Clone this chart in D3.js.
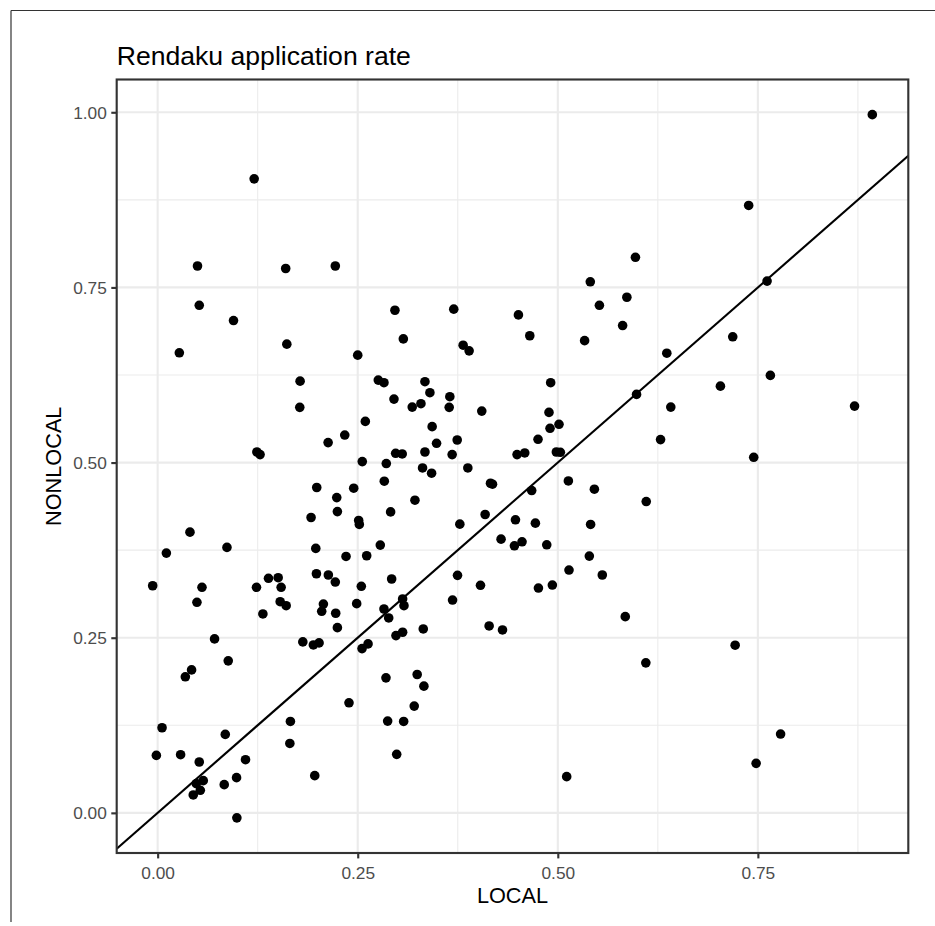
<!DOCTYPE html>
<html>
<head>
<meta charset="utf-8">
<script src="https://cdn.jsdelivr.net/npm/d3@7/dist/d3.min.js"></script>
<style>
  html, body { margin: 0; padding: 0; background: #ffffff; }
  svg { display: block; }
  text { font-family: "Liberation Sans", Arial, Helvetica, sans-serif; }
</style>
</head>
<body>
<svg id="chart" width="935" height="926"></svg>
<script>
// ---- data ----
const titleText = "Rendaku application rate";
const xLabel = "LOCAL";
const yLabel = "NONLOCAL";

const localRate = [
  0.1206, 0.0498, 0.052, 0.0948, 0.160, 0.222, 0.2965, 0.370, 0.307, 0.4508,
  0.465, 0.5406, 0.597, 0.552, 0.5863, 0.581, 0.5335, 0.893, 0.7385, 0.7615,
  0.7186, 0.0271, 0.1614, 0.25, 0.178, 0.1776, 0.2595, 0.2338, 0.213, 0.124,
  0.128, 0.2557, 0.1988, 0.245, 0.2238, 0.2246, 0.1917, 0.2512, 0.252, 0.0404,
  0.0109, 0.0866, 0.1976, 0.2354, 0.2612, 0.1984, 0.2133, 0.222, 0.1385, 0.1506,
  -0.0062, 0.0554, 0.1235, 0.1543, 0.2545, 0.0491, 0.1531, 0.1606, 0.1315, 0.205,
  0.2071, 0.2487, 0.2225, 0.2246, 0.0711, 0.1814, 0.1946, 0.2017, 0.2554, 0.2629,
  0.0424, 0.0346, 0.0882, 0.2391, 0.0055, 0.1659, 0.1652, 0.0845, -0.0016, 0.0287,
  0.052, 0.1098, 0.1963, 0.0986, 0.057, 0.0483, 0.0832, 0.0533, 0.0445, 0.099,
  0.3817, 0.3892, 0.2757, 0.2828, 0.334, 0.3402, 0.2953, 0.3181, 0.329, 0.3651,
  0.3643, 0.405, 0.4911, 0.489, 0.4903, 0.5015, 0.4753, 0.343, 0.3485, 0.3743,
  0.2974, 0.3056, 0.334, 0.368, 0.4491, 0.4587, 0.4982, 0.5032, 0.2857, 0.331,
  0.3423, 0.3876, 0.2832, 0.4159, 0.4184, 0.5132, 0.5457, 0.4674, 0.3215, 0.2911,
  0.3776, 0.4092, 0.4471, 0.472, 0.541, 0.2782, 0.4291, 0.4458, 0.4553, 0.4862,
  0.5394, 0.2924, 0.3747, 0.514, 0.5556, 0.4034, 0.4758, 0.4932, 0.3061, 0.3078,
  0.2828, 0.2887, 0.2978, 0.3061, 0.3319, 0.3685, 0.4142, 0.4309, 0.5843, 0.2853,
  0.3243, 0.3327, 0.3206, 0.2874, 0.3074, 0.2987, 0.5111, 0.6362, 0.5984, 0.7032,
  0.7656, 0.6412, 0.8708, 0.6284, 0.7448, 0.6105, 0.7216, 0.61, 0.7784, 0.7478
];

const nonlocalRate = [
  0.905, 0.7806, 0.7245, 0.7027, 0.777, 0.7806, 0.7174, 0.719, 0.6765, 0.7108,
  0.681, 0.758, 0.793, 0.7245, 0.736, 0.6956, 0.674, 0.9966, 0.867, 0.759,
  0.6795, 0.6567, 0.669, 0.6533, 0.6162, 0.5788, 0.5588, 0.5393, 0.5285, 0.5151,
  0.5114, 0.5014, 0.4644, 0.4634, 0.450, 0.430, 0.4216, 0.4174, 0.4117, 0.4007,
  0.3708, 0.3789, 0.3775, 0.366, 0.367, 0.3413, 0.3395, 0.3295, 0.3348, 0.3357,
  0.3242, 0.322, 0.322, 0.322, 0.3234, 0.3006, 0.3014, 0.2957, 0.2839, 0.2877,
  0.2981, 0.2986, 0.2849, 0.2644, 0.2483, 0.244, 0.2397, 0.2426, 0.2345, 0.2412,
  0.2041, 0.1942, 0.217, 0.1571, 0.1215, 0.1305, 0.0991, 0.112, 0.082, 0.083,
  0.0726, 0.0759, 0.0531, 0.0503, 0.046, 0.0417, 0.0403, 0.0322, 0.0256, -0.0071,
  0.6675, 0.6595, 0.6177, 0.614, 0.6154, 0.5997, 0.5906, 0.5792, 0.584, 0.594,
  0.5788, 0.5735, 0.614, 0.5716, 0.5489, 0.5546, 0.5332, 0.5513, 0.5275, 0.5322,
  0.5132, 0.5123, 0.5151, 0.5114, 0.5114, 0.5137, 0.5151, 0.5147, 0.4986, 0.4923,
  0.4848, 0.4923, 0.4734, 0.4705, 0.4691, 0.4738, 0.462, 0.4601, 0.4463, 0.4296,
  0.4121, 0.4259, 0.4183, 0.4135, 0.4117, 0.3822, 0.3907, 0.3812, 0.3869, 0.3826,
  0.3665, 0.3338, 0.339, 0.3466, 0.3395, 0.3248, 0.3209, 0.3252, 0.3053, 0.2957,
  0.291, 0.2782, 0.253, 0.2578, 0.2625, 0.3038, 0.2668, 0.2611, 0.2801, 0.1927,
  0.1975, 0.1809, 0.1524, 0.131, 0.1305, 0.0835, 0.0517, 0.6561, 0.5973, 0.6091,
  0.6244, 0.5792, 0.5806, 0.5328, 0.5075, 0.4444, 0.2393, 0.2141, 0.1125, 0.0707
];

const xTicks = [0, 0.25, 0.5, 0.75];
const xTickLabels = ["0.00", "0.25", "0.50", "0.75"];
const yTicks = [0, 0.25, 0.5, 0.75, 1.0];
const yTickLabels = ["0.00", "0.25", "0.50", "0.75", "1.00"];
const xMinor = [0.125, 0.375, 0.625, 0.875];
const yMinor = [0.125, 0.375, 0.625, 0.875];
const refLineIntercept = 0;
const refLineSlope = 1;

// ---- layout ----
const W = 935, H = 926;
const panel = { left: 116.7, right: 908.3, top: 79.5, bottom: 853 };

function expand(ext, m) {
  const d = ext[1] - ext[0];
  return [ext[0] - m * d, ext[1] + m * d];
}

const x = d3.scaleLinear()
  .domain(expand(d3.extent(localRate), 0.05))
  .range([panel.left, panel.right]);
const y = d3.scaleLinear()
  .domain(expand(d3.extent(nonlocalRate), 0.05))
  .range([panel.bottom, panel.top]);

const svg = d3.select("#chart");

svg.append("rect").attr("x", 0).attr("y", 0).attr("width", W).attr("height", H).attr("fill", "#ffffff");

// outer frame lines
svg.append("line").attr("x1", 11).attr("x2", W).attr("y1", 10.5).attr("y2", 10.5)
  .attr("stroke", "#333333").attr("stroke-width", 1.2);
svg.append("line").attr("x1", 11).attr("x2", 11).attr("y1", 10.5).attr("y2", 922)
  .attr("stroke", "#333333").attr("stroke-width", 1.2);

// panel background
svg.append("rect")
  .attr("x", panel.left).attr("y", panel.top)
  .attr("width", panel.right - panel.left).attr("height", panel.bottom - panel.top)
  .attr("fill", "#ffffff");

const grid = svg.append("g");
// minor grid
grid.selectAll(".xminor").data(xMinor).enter().append("line")
  .attr("x1", d => x(d)).attr("x2", d => x(d))
  .attr("y1", panel.top).attr("y2", panel.bottom)
  .attr("stroke", "#EBEBEB").attr("stroke-width", 1.07);
grid.selectAll(".yminor").data(yMinor).enter().append("line")
  .attr("y1", d => y(d)).attr("y2", d => y(d))
  .attr("x1", panel.left).attr("x2", panel.right)
  .attr("stroke", "#EBEBEB").attr("stroke-width", 1.07);
// major grid
grid.selectAll(".xmajor").data(xTicks).enter().append("line")
  .attr("x1", d => x(d)).attr("x2", d => x(d))
  .attr("y1", panel.top).attr("y2", panel.bottom)
  .attr("stroke", "#EBEBEB").attr("stroke-width", 2.13);
grid.selectAll(".ymajor").data(yTicks).enter().append("line")
  .attr("y1", d => y(d)).attr("y2", d => y(d))
  .attr("x1", panel.left).attr("x2", panel.right)
  .attr("stroke", "#EBEBEB").attr("stroke-width", 2.13);

// clip
svg.append("defs").append("clipPath").attr("id", "panelClip")
  .append("rect")
  .attr("x", panel.left).attr("y", panel.top)
  .attr("width", panel.right - panel.left).attr("height", panel.bottom - panel.top);

const plot = svg.append("g").attr("clip-path", "url(#panelClip)");

const pts = localRate.map((v, i) => ({ x: v, y: nonlocalRate[i] }));

plot.selectAll("circle").data(pts).enter().append("circle")
  .attr("cx", d => x(d.x)).attr("cy", d => y(d.y))
  .attr("r", 4.8).attr("fill", "#000000");

// reference line y = x
const xd = x.domain();
const lineGen = d3.line().x(d => x(d[0])).y(d => y(d[1]));
plot.append("path")
  .datum(xd.map(v => [v, refLineIntercept + refLineSlope * v]))
  .attr("d", lineGen)
  .attr("fill", "none").attr("stroke", "#000000").attr("stroke-width", 2.13);

// panel border
svg.append("rect")
  .attr("x", panel.left).attr("y", panel.top)
  .attr("width", panel.right - panel.left).attr("height", panel.bottom - panel.top)
  .attr("fill", "none").attr("stroke", "#333333").attr("stroke-width", 2.13);

// axes
const xAxis = d3.axisBottom(x).tickValues(xTicks)
  .tickFormat((d, i) => xTickLabels[i]).tickSizeInner(5.4).tickSizeOuter(0).tickPadding(4.5);
const yAxis = d3.axisLeft(y).tickValues(yTicks)
  .tickFormat((d, i) => yTickLabels[i]).tickSizeInner(5.4).tickSizeOuter(0).tickPadding(4.5);

const gx = svg.append("g").attr("transform", `translate(0,${panel.bottom})`).call(xAxis);
const gy = svg.append("g").attr("transform", `translate(${panel.left},0)`).call(yAxis);

[gx, gy].forEach(g => {
  g.select(".domain").remove();
  g.selectAll(".tick line").attr("stroke", "#333333").attr("stroke-width", 2.13);
  g.selectAll(".tick text")
    .attr("fill", "#4D4D4D")
    .style("font-size", "17.3px")
    .style("font-family", "'Liberation Sans', Arial, Helvetica, sans-serif");
});
gx.selectAll(".tick text").attr("dy", "0.95em");
gy.selectAll(".tick text").attr("dy", "0.35em");

// axis titles
svg.append("text")
  .attr("x", (panel.left + panel.right) / 2).attr("y", 903)
  .attr("text-anchor", "middle")
  .style("font-size", "21.7px").attr("fill", "#000000")
  .text(xLabel);

svg.append("text")
  .attr("transform", `translate(61,${(panel.top + panel.bottom) / 2}) rotate(-90)`)
  .attr("text-anchor", "middle")
  .style("font-size", "21.7px").attr("fill", "#000000")
  .text(yLabel);

// title
svg.append("text")
  .attr("x", panel.left).attr("y", 65)
  .style("font-size", "26.6px").attr("fill", "#000000")
  .text(titleText);
</script>
</body>
</html>
